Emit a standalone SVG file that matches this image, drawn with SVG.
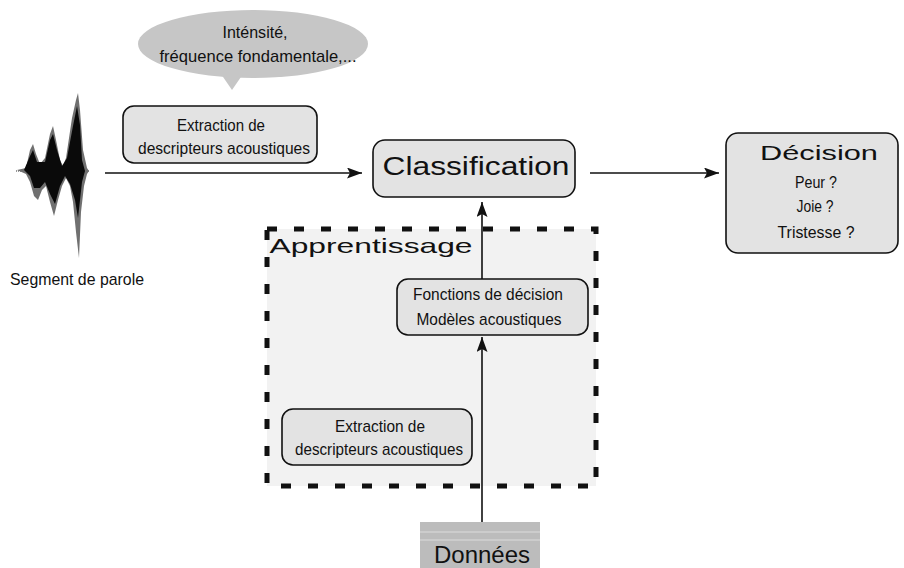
<svg xmlns="http://www.w3.org/2000/svg" width="904" height="568" viewBox="0 0 904 568">
<style>
  .box { fill: #e3e3e3; stroke: #111; stroke-width: 1.6; }
  .t { font-family: "Liberation Sans", Arial, sans-serif; fill: #111; text-anchor: middle; }
  .s { font-size: 17px; }
  .b { font-size: 25px; }
  .wire { stroke: #111; stroke-width: 1.6; fill: none; }
</style>
<defs>
  <marker id="arr" markerUnits="userSpaceOnUse" markerWidth="16" markerHeight="11" refX="15" refY="5.5" orient="auto">
    <path d="M0,0 L15,5.5 L0,11 L3,5.5 z" fill="#111"/>
  </marker>
</defs>
<rect width="904" height="568" fill="#fff"/>

<g id="apprentissage">
  <rect x="267" y="229" width="329" height="257" fill="#f2f2f2" stroke="#111" stroke-width="5" stroke-dasharray="10 17"/>
  <text class="t" x="371" y="253" font-size="21" textLength="203" lengthAdjust="spacingAndGlyphs">Apprentissage</text>
</g>

<g id="bulle">
  <ellipse cx="253" cy="44" rx="115" ry="34" fill="#c6c6c6"/>
  <path d="M221,74 L232,90 L243,74 z" fill="#c6c6c6"/>
  <text class="t s" x="255" y="38" textLength="65" lengthAdjust="spacingAndGlyphs">Inténsité,</text>
  <text class="t s" x="258" y="62" textLength="197" lengthAdjust="spacingAndGlyphs">fréquence fondamentale,...</text>
</g>

<g id="segment">
  <line x1="16" y1="171" x2="90" y2="171" stroke="#777" stroke-width="1.5" stroke-dasharray="1 1"/>
  <path d="M17,170 L26,168 L30,150 L33,144 L36,154 L40,164 L45,158 L50,134 L53,126 L56,140 L60,160 L63,166 L66,158 L72,118 L76,100 L78,93 L80,110 L83,150 L87,168 L89,171 L87,174 L84,186 L81,212 L79,258 L76,232 L73,202 L70,186 L66,178 L62,186 L58,200 L54,216 L50,202 L46,186 L42,190 L38,200 L34,196 L30,182 L26,174 Z" fill="#707070"/>
  <path d="M24,170 L30,156 L33,150 L37,162 L45,162 L50,140 L53,134 L57,150 L62,166 L67,158 L73,126 L77,106 L80,125 L82,160 L85,171 L82,182 L80,200 L78,218 L75,200 L70,184 L65,176 L60,186 L55,204 L50,194 L45,182 L40,188 L34,188 L30,176 Z" fill="#0a0a0a"/>
  <text class="t s" x="77" y="285" textLength="134" lengthAdjust="spacingAndGlyphs">Segment de parole</text>
</g>

<g id="extraction-haut">
  <rect class="box" x="123" y="106" width="194" height="57" rx="11"/>
  <text class="t s" x="221" y="131" textLength="88" lengthAdjust="spacingAndGlyphs">Extraction de</text>
  <text class="t s" x="224" y="154" textLength="172" lengthAdjust="spacingAndGlyphs">descripteurs acoustiques</text>
</g>

<g id="classification">
  <rect class="box" x="373" y="140" width="202" height="57" rx="12"/>
  <text class="t b" x="476" y="175" textLength="187" lengthAdjust="spacingAndGlyphs">Classification</text>
</g>

<g id="decision">
  <rect class="box" x="726" y="133" width="172" height="120" rx="12"/>
  <text class="t" x="819" y="160" font-size="21" textLength="118" lengthAdjust="spacingAndGlyphs">Décision</text>
  <text class="t s" x="816" y="188" textLength="42" lengthAdjust="spacingAndGlyphs">Peur ?</text>
  <text class="t s" x="815" y="212" textLength="37" lengthAdjust="spacingAndGlyphs">Joie ?</text>
  <text class="t s" x="816" y="238" textLength="77" lengthAdjust="spacingAndGlyphs">Tristesse ?</text>
</g>

<g id="fonctions">
  <rect class="box" x="397" y="279" width="191" height="56" rx="11"/>
  <text class="t s" x="488" y="300" textLength="150" lengthAdjust="spacingAndGlyphs">Fonctions de décision</text>
  <text class="t s" x="489" y="325" textLength="145" lengthAdjust="spacingAndGlyphs">Modèles acoustiques</text>
</g>

<g id="extraction-bas">
  <rect class="box" x="282" y="409" width="190" height="56" rx="11"/>
  <text class="t s" x="380" y="432" textLength="90" lengthAdjust="spacingAndGlyphs">Extraction de</text>
  <text class="t s" x="379" y="455" textLength="168" lengthAdjust="spacingAndGlyphs">descripteurs acoustiques</text>
</g>

<g id="donnees">
  <rect x="420" y="522" width="120" height="46" fill="#bcbcbc"/>
  <line x1="420" y1="532" x2="540" y2="532" stroke="#dcdcdc" stroke-width="1"/>
  <line x1="420" y1="540" x2="540" y2="540" stroke="#dcdcdc" stroke-width="1"/>
  <text class="t" x="482" y="563" font-size="24" textLength="96" lengthAdjust="spacingAndGlyphs">Données</text>
</g>

<g id="connecteurs">
  <line class="wire" x1="105" y1="173" x2="362" y2="173" marker-end="url(#arr)"/>
  <line class="wire" x1="590" y1="173" x2="719" y2="173" marker-end="url(#arr)"/>
  <line class="wire" x1="482" y1="279" x2="482" y2="202" marker-end="url(#arr)"/>
  <line class="wire" x1="482" y1="522" x2="482" y2="337" marker-end="url(#arr)"/>
</g>
</svg>
